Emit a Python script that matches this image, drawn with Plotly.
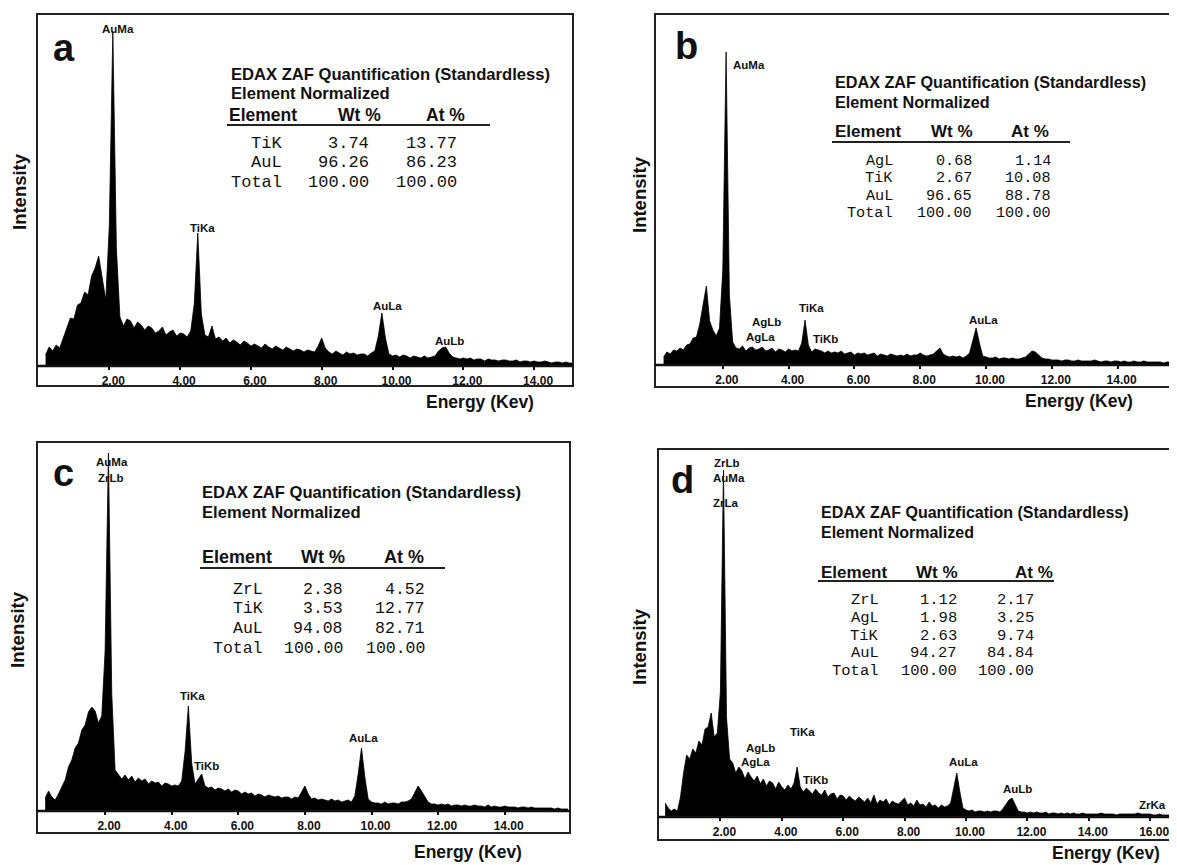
import plotly.graph_objects as go

# page size and the 8px default body margin of the written html page
PAGE_W, PAGE_H = 1177, 865
BODY_MARGIN = 8
W, H = PAGE_W - BODY_MARGIN, PAGE_H - BODY_MARGIN

# ---------------- data ----------------
ENERGY_KEV = [
    0.2, 0.3, 0.4, 0.5, 0.6, 0.7, 0.8, 0.9, 1.0, 1.1,
    1.2, 1.3, 1.4, 1.5, 1.6, 1.7, 1.8, 1.9, 2.0, 2.1,
    2.2, 2.3, 2.4, 2.5, 2.6, 2.7, 2.8, 2.9, 3.0, 3.1,
    3.2, 3.3, 3.4, 3.5, 3.6, 3.7, 3.8, 3.9, 4.0, 4.1,
    4.2, 4.3, 4.4, 4.5, 4.6, 4.7, 4.8, 4.9, 5.0, 5.1,
    5.2, 5.3, 5.4, 5.5, 5.6, 5.7, 5.8, 5.9, 6.0, 6.1,
    6.2, 6.3, 6.4, 6.5, 6.6, 6.7, 6.8, 6.9, 7.0, 7.1,
    7.2, 7.3, 7.4, 7.5, 7.6, 7.7, 7.8, 7.9, 8.0, 8.1,
    8.2, 8.3, 8.4, 8.5, 8.6, 8.7, 8.8, 8.9, 9.0, 9.1,
    9.2, 9.3, 9.4, 9.5, 9.6, 9.7, 9.8, 9.9, 10.0, 10.1,
    10.2, 10.3, 10.4, 10.5, 10.6, 10.7, 10.8, 10.9, 11.0, 11.1,
    11.2, 11.3, 11.4, 11.5, 11.6, 11.7, 11.8, 11.9, 12.0, 12.1,
    12.2, 12.3, 12.4, 12.5, 12.6, 12.7, 12.8, 12.9, 13.0, 13.1,
    13.2, 13.3, 13.4, 13.5, 13.6, 13.7, 13.8, 13.9, 14.0, 14.1,
    14.2, 14.3, 14.4, 14.5, 14.6, 14.7, 14.8, 14.9, 15.0, 15.1,
    15.2, 15.3, 15.4, 15.5, 15.6, 15.7, 15.8, 15.9, 16.0, 16.1,
    16.2, 16.3, 16.4, 16.5, 16.6, 16.7,
]

COUNTS_A = [
    11, 19, 15, 21, 18, 28, 38, 48, 47, 61,
    63, 74, 71, 90, 98, 110, 88, 66, 140, 335,
    118, 49, 40, 47, 45, 38, 44, 41, 36, 40,
    38, 33, 35, 39, 31, 34, 36, 30, 33, 32,
    29, 35, 62, 133, 52, 31, 29, 40, 27, 29,
    25, 28, 23, 26, 24, 21, 25, 23, 20, 22,
    20, 18, 22, 19, 17, 20, 18, 16, 19, 17,
    15, 17, 16, 14, 16, 15, 14, 20, 28, 18,
    14, 12, 15, 13, 11, 14, 12, 13, 11, 12,
    12, 10, 13, 15, 30, 53, 28, 12, 10, 11,
    9, 11, 10, 8, 10, 9, 8, 10, 8, 9,
    10, 15, 18, 19, 13, 9, 8, 7, 8, 7,
    8, 6, 7, 7, 5, 7, 6, 6, 5, 6,
    6, 5, 5, 6, 4, 5, 5, 4, 5, 4,
    4, 5, 4, 3, 4, 4, 3, 4, 3, 3,
]

COUNTS_B = [
    8, 13, 11, 15, 14, 17, 15, 20, 21, 27,
    28, 41, 60, 79, 44, 35, 29, 37, 95, 313,
    70, 23, 17, 16, 19, 14, 17, 18, 15, 16,
    18, 14, 15, 17, 13, 16, 15, 13, 16, 14,
    15, 14, 22, 45, 20, 13, 16, 15, 14, 12,
    14, 12, 13, 12, 14, 11, 12, 13, 10, 12,
    11, 12, 10, 11, 12, 9, 11, 10, 9, 11,
    10, 9, 10, 9, 11, 9, 10, 10, 12, 10,
    9, 10, 11, 14, 17, 11, 9, 8, 9, 8,
    9, 7, 9, 12, 24, 37, 22, 9, 8, 7,
    7, 8, 6, 7, 7, 6, 7, 6, 6, 7,
    8, 11, 14, 13, 10, 7, 6, 6, 5, 5,
    5, 4, 5, 5, 4, 4, 5, 4, 4, 4,
    4, 5, 4, 3, 4, 4, 3, 4, 4, 3,
    4, 3, 3, 4, 3, 3, 4, 3, 3, 3,
    3, 3, 2, 3, 3, 2, 3,
]

COUNTS_C = [
    13, 20, 14, 11, 17, 24, 31, 44, 51, 63,
    68, 81, 86, 99, 104, 100, 88, 95, 160, 358,
    117, 41, 37, 32, 36, 31, 35, 29, 33, 30,
    32, 27, 30, 28, 29, 25, 28, 27, 25, 26,
    25, 30, 59, 105, 48, 27, 32, 37, 25, 23,
    24, 21, 23, 22, 20, 22, 19, 21, 20, 17,
    19, 17, 18, 15, 17, 16, 14, 16, 15, 14,
    15, 13, 14, 14, 12, 14, 13, 19, 25, 17,
    12, 13, 11, 12, 11, 10, 12, 10, 11, 9,
    10, 11, 9, 15, 37, 63, 34, 12, 9, 8,
    8, 7, 9, 7, 8, 8, 7, 9, 9, 10,
    12, 18, 25, 20, 14, 9, 7, 7, 6, 7,
    6, 7, 5, 6, 6, 5, 6, 5, 5, 6,
    5, 5, 4, 6, 4, 5, 4, 4, 5, 4,
    4, 4, 3, 4, 4, 3, 4, 3, 3, 3,
    3, 3, 3, 2, 3, 2, 2, 2,
]

COUNTS_D = [
    14, 9, 6, 8, 6, 20, 44, 62, 58, 68,
    64, 76, 72, 88, 90, 104, 80, 84, 125, 347,
    99, 58, 54, 44, 50, 46, 38, 45, 40, 36,
    41, 33, 38, 31, 36, 34, 28, 35, 30, 27,
    32, 28, 34, 50, 30, 25, 29, 26, 23, 28,
    24, 22, 27, 20, 23, 24, 18, 22, 21, 17,
    21, 18, 16, 20, 17, 15, 19, 14, 22, 13,
    17, 15, 18, 12, 16, 14, 13, 16, 19, 12,
    14, 11, 17, 12, 13, 10, 15, 11, 12, 9,
    12, 10, 11, 14, 29, 44, 25, 9, 7, 6,
    7, 5, 6, 6, 5, 6, 5, 6, 6, 5,
    8, 12, 17, 19, 12, 6, 5, 5, 4, 5,
    4, 5, 4, 4, 5, 3, 4, 4, 3, 4,
    3, 4, 3, 4, 3, 3, 4, 3, 3, 3,
    3, 3, 4, 3, 3, 3, 3, 2, 3, 3,
    3, 3, 3, 3, 4, 3, 3, 3, 3, 2,
    2, 3, 2, 2, 2, 2,
]

TICKS_14 = [2, 4, 6, 8, 10, 12, 14]
TICKS_16 = [2, 4, 6, 8, 10, 12, 14, 16]

TABLE_A_ELEMENT = ["TiK", "AuL", "Total"]
TABLE_A_WT = ["3.74", "96.26", "100.00"]
TABLE_A_AT = ["13.77", "86.23", "100.00"]

TABLE_B_ELEMENT = ["AgL", "TiK", "AuL", "Total"]
TABLE_B_WT = ["0.68", "2.67", "96.65", "100.00"]
TABLE_B_AT = ["1.14", "10.08", "88.78", "100.00"]

TABLE_C_ELEMENT = ["ZrL", "TiK", "AuL", "Total"]
TABLE_C_WT = ["2.38", "3.53", "94.08", "100.00"]
TABLE_C_AT = ["4.52", "12.77", "82.71", "100.00"]

TABLE_D_ELEMENT = ["ZrL", "AgL", "TiK", "AuL", "Total"]
TABLE_D_WT = ["1.12", "1.98", "2.63", "94.27", "100.00"]
TABLE_D_AT = ["2.17", "3.25", "9.74", "84.84", "100.00"]

PEAK_LABELS_A = ["AuMa", "TiKa", "AuLa", "AuLb"]
PEAK_LABELS_B = ["AuMa", "AgLb", "AgLa", "TiKa", "TiKb", "AuLa"]
PEAK_LABELS_C = ["AuMa", "ZrLb", "TiKa", "TiKb", "AuLa"]
PEAK_LABELS_D = ["ZrLb", "AuMa", "ZrLa", "AgLb", "AgLa", "TiKa", "TiKb", "AuLa", "AuLb", "ZrKa"]

# ---------------- layout helpers ----------------
SANS = "Liberation Sans, Arial, sans-serif"
MONO = "Courier New, Liberation Mono, monospace"


def fx(px):
    return (px - BODY_MARGIN) / W


def fy(py):
    return 1 - (py - BODY_MARGIN) / H


panels = [
    dict(letter="a", counts=COUNTS_A, ticks=TICKS_14, box=(37, 14, 573, 386), axis_y=366,
         x0=38.5, x1=573, kev_px=35.4, letter_xy=(64, 48),
         energy_xy=(480, 402), inten_xy=(19, 192),
         peaks=PEAK_LABELS_A, peak_xy=[(118, 29), (203, 228), (387, 306), (449, 341)],
         table=(TABLE_A_ELEMENT, TABLE_A_WT, TABLE_A_AT),
         title_xy=(229, 74), norm_y=93, head_y=115, line=(227, 490, 125),
         head_cols=(227, 359, 445), cols=(284, 371, 459), rows_y=[143.5, 162.8, 182],
         title_size=16.6, head_size=17.5, mono_size=17),
    dict(letter="b", counts=COUNTS_B, ticks=TICKS_14, box=(655, 14, 1190, 387), axis_y=365,
         x0=657, x1=1177, kev_px=32.9, letter_xy=(686, 46),
         energy_xy=(1079, 401), inten_xy=(640, 195),
         peaks=PEAK_LABELS_B,
         peak_xy=[(749, 65), (766, 322), (760, 337), (811, 308), (825, 339), (983, 320)],
         table=(TABLE_B_ELEMENT, TABLE_B_WT, TABLE_B_AT),
         title_xy=(833, 82), norm_y=102, head_y=132, line=(832, 1070, 142),
         head_cols=(833, 952, 1030), cols=(895, 974, 1053), rows_y=[161, 178.3, 195.6, 213],
         title_size=16.2, head_size=17, mono_size=15.2),
    dict(letter="c", counts=COUNTS_C, ticks=TICKS_14, box=(37, 442, 570, 833), axis_y=811,
         x0=38.5, x1=570, kev_px=33.3, letter_xy=(63, 473),
         energy_xy=(468, 852), inten_xy=(17, 630),
         peaks=PEAK_LABELS_C,
         peak_xy=[(112, 462), (111, 478), (192, 696), (206, 766), (363, 738)],
         table=(TABLE_C_ELEMENT, TABLE_C_WT, TABLE_C_AT),
         title_xy=(200, 492), norm_y=513, head_y=557, line=(200, 445, 568),
         head_cols=(200, 323, 404), cols=(265, 345, 427), rows_y=[589, 608.7, 628.3, 648],
         title_size=16.6, head_size=18, mono_size=16.5),
    dict(letter="d", counts=COUNTS_D, ticks=TICKS_16, box=(658, 449, 1190, 840), axis_y=817,
         x0=659, x1=1177, kev_px=30.7, letter_xy=(682, 480),
         energy_xy=(1106, 853), inten_xy=(639, 647),
         peaks=PEAK_LABELS_D,
         peak_xy=[(727, 463), (729, 478), (726, 503), (760, 748), (755, 762), (802, 732),
                  (815, 780), (963, 762), (1017, 789), (1152, 805)],
         table=(TABLE_D_ELEMENT, TABLE_D_WT, TABLE_D_AT),
         title_xy=(819, 513), norm_y=532, head_y=572, line=(818, 1054, 581),
         head_cols=(819, 937, 1034), cols=(881, 959, 1036), rows_y=[600, 617.8, 635.6, 653.4, 671.2],
         title_size=16, head_size=17, mono_size=15.5),
]

fig = go.Figure()
shapes = []
annotations = []
layout_axes = {}


def txt(text, x, y, size, xanchor="center", yanchor="middle", family=SANS, bold=True, angle=0):
    annotations.append(dict(
        text=text, x=fx(x), y=fy(y), xref="paper", yref="paper", showarrow=False,
        xanchor=xanchor, yanchor=yanchor, textangle=angle,
        font=dict(family=family, size=size, color="#111",
                  weight="bold" if bold else "normal"),
    ))


for i, p in enumerate(panels, start=1):
    xa = "x" if i == 1 else f"x{i}"
    ya = "y" if i == 1 else f"y{i}"
    bl, bt, br, bb = p["box"]
    ax_y = p["axis_y"]
    n = len(p["counts"])
    fig.add_trace(go.Scatter(
        x=ENERGY_KEV[:n], y=p["counts"], mode="lines",
        line=dict(color="black", width=0.8), fill="tozeroy", fillcolor="black",
        xaxis=xa, yaxis=ya, showlegend=False, hoverinfo="skip",
    ))
    layout_axes["xaxis" if i == 1 else f"xaxis{i}"] = dict(
        domain=[fx(p["x0"]), min(1.0, fx(p["x1"]))], anchor=ya,
        range=[0, (p["x1"] - p["x0"]) / p["kev_px"]],
        showgrid=False, zeroline=False, showline=False,
        tickvals=p["ticks"], ticktext=[f"{t:.2f}" for t in p["ticks"]],
        ticks="outside", ticklen=3, tickwidth=1.5, tickcolor="#111",
        ticklabelshift=4, ticklabelstandoff=1,
        tickfont=dict(family=SANS, size=12, color="#111", weight="bold"),
    )
    layout_axes["yaxis" if i == 1 else f"yaxis{i}"] = dict(
        domain=[fy(ax_y), fy(bt)], anchor=xa, range=[0, ax_y - bt],
        visible=False, showgrid=False, zeroline=False,
    )
    # frame and axis line
    shapes.append(dict(type="rect", xref="paper", yref="paper",
                       x0=fx(bl), x1=fx(br), y0=fy(bb), y1=fy(bt),
                       line=dict(color="#222", width=2)))
    shapes.append(dict(type="line", xref="paper", yref="paper",
                       x0=fx(bl), x1=fx(br), y0=fy(ax_y), y1=fy(ax_y),
                       line=dict(color="#111", width=2.5)))
    # panel letter
    txt(p["letter"], *p["letter_xy"], 38)
    # axis titles
    txt("Energy (Kev)", *p["energy_xy"], 17.5)
    txt("Intensity", *p["inten_xy"], 18.5, angle=-90)
    # peak labels
    for lab, (px, py) in zip(p["peaks"], p["peak_xy"]):
        txt(lab, px, py, 11.5)
    # quantification table
    tx, ty = p["title_xy"]
    txt("EDAX ZAF Quantification (Standardless)", tx, ty, p["title_size"], xanchor="left")
    txt("Element Normalized", tx, p["norm_y"], p["title_size"], xanchor="left")
    hc = p["head_cols"]
    txt("Element", hc[0], p["head_y"], p["head_size"], xanchor="left")
    txt("Wt %", hc[1], p["head_y"], p["head_size"])
    txt("At %", hc[2], p["head_y"], p["head_size"])
    lx0, lx1, ly = p["line"]
    shapes.append(dict(type="line", xref="paper", yref="paper",
                       x0=fx(lx0), x1=fx(lx1), y0=fy(ly), y1=fy(ly),
                       line=dict(color="#222", width=2)))
    elems, wts, ats = p["table"]
    for e, w_, a_, ry in zip(elems, wts, ats, p["rows_y"]):
        for val, cx in zip((e, w_, a_), p["cols"]):
            txt(val, cx, ry, p["mono_size"], xanchor="right", family=MONO, bold=False)

fig.update_layout(
    width=W, height=H, margin=dict(l=0, r=0, t=0, b=0),
    paper_bgcolor="white", plot_bgcolor="white",
    shapes=shapes, annotations=annotations, showlegend=False,
    **layout_axes,
)

fig.write_html("out.html")
